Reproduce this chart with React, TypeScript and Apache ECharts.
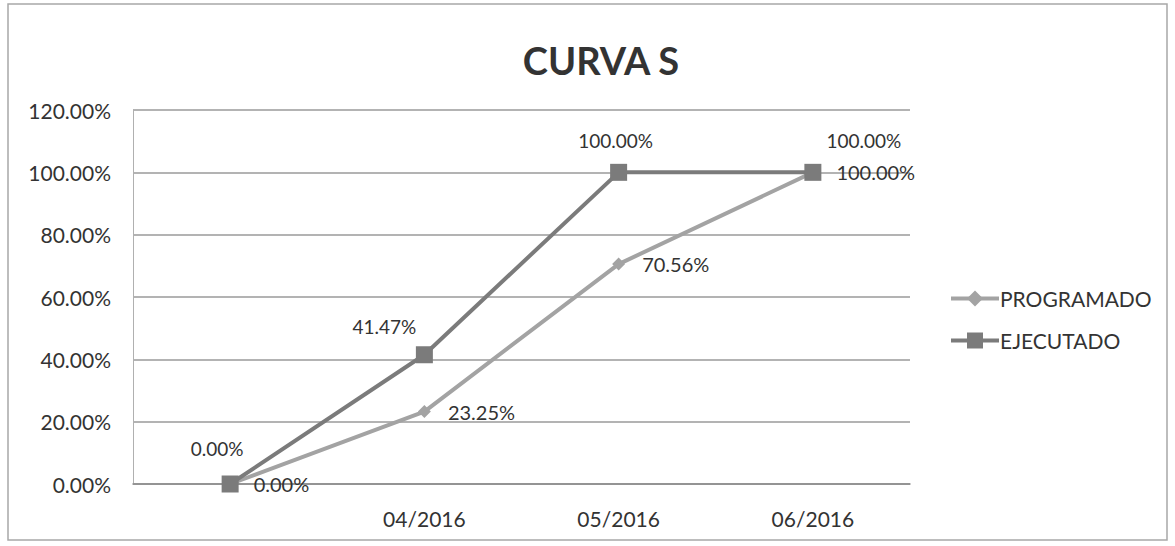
import React, { useEffect, useRef } from "react";
import * as echarts from "echarts";

const categories = ["", "04/2016", "05/2016", "06/2016"];
const programado = [0, 23.25, 70.56, 100];
const ejecutado = [0, 41.47, 100, 100];
const yTicks = [0, 20, 40, 60, 80, 100, 120];

const FONT = "Lato, 'Open Sans', sans-serif";

export default function App() {
  const ref = useRef<HTMLDivElement>(null);
  useEffect(() => {
    const chart = echarts.init(ref.current!, null, { renderer: "svg" });
    const ejOffsets: [number, number][] = [[-13, -36], [-40, -28], [-3, -32], [51, -32]];
    chart.setOption({
      animation: false,
      backgroundColor: "#ffffff",
      title: {
        text: "CURVA S",
        left: 596,
        top: 36,
        textAlign: "center",
        textStyle: { fontFamily: FONT, fontSize: 38, fontWeight: "bold", color: "#333333" },
      },
      graphic: [
        {
          type: "rect",
          shape: { x: 8, y: 4, width: 1159, height: 536 },
          style: { fill: "none", stroke: "#a8a8a8", lineWidth: 1.5 },
          silent: true,
        },
      ],
      legend: {
        orient: "vertical",
        left: 944,
        top: 282,
        itemGap: 19,
        itemWidth: 48,
        itemHeight: 20,
        lineStyle: { width: 4 },
        textStyle: { fontFamily: FONT, fontSize: 21, lineHeight: 23, color: "#333333", padding: [0, 0, 0, -4] },
        data: ["PROGRAMADO", "EJECUTADO"],
      },
      grid: { left: 133, right: 1175 - 910, top: 110, bottom: 546 - 484 },
      xAxis: {
        type: "category",
        data: categories,
        boundaryGap: true,
        axisLine: { show: true, lineStyle: { color: "#8a8a8a", width: 1.5 } },
        axisTick: { show: false },
        axisLabel: { fontFamily: FONT, fontSize: 21, color: "#333333", margin: 24 },
      },
      yAxis: {
        type: "value",
        min: 0,
        max: 120,
        interval: 20,
        axisLine: { show: true, lineStyle: { color: "#b0b0b0", width: 1 } },
        axisTick: { show: false },
        splitLine: { lineStyle: { color: "#9a9a9a", width: 1.5 } },
        axisLabel: {
          fontFamily: FONT,
          fontSize: 21,
          color: "#333333",
          margin: 22,
          formatter: (v: number) => (yTicks.includes(v) ? v.toFixed(2) + "%" : ""),
        },
      },
      series: [
        {
          name: "PROGRAMADO",
          type: "line",
          data: programado,
          symbol: "diamond",
          symbolSize: 13,
          z: 2,
          lineStyle: { color: "#a3a3a3", width: 4 },
          itemStyle: { color: "#a3a3a3" },
          label: {
            show: true,
            position: "right",
            distance: 17,
            fontFamily: FONT,
            fontSize: 20,
            color: "#333333",
            formatter: (p: any) => Number(p.value).toFixed(2) + "%",
          },
        },
        {
          name: "EJECUTADO",
          type: "line",
          data: ejecutado.map((v, i) => ({
            value: v,
            label: { offset: ejOffsets[i] },
          })),
          symbol: "rect",
          symbolSize: 17,
          z: 3,
          lineStyle: { color: "#7b7b7b", width: 4 },
          itemStyle: { color: "#7b7b7b" },
          label: {
            show: true,
            position: "inside",
            fontFamily: FONT,
            fontSize: 19,
            color: "#333333",
            formatter: (p: any) => Number(p.value).toFixed(2) + "%",
          },
        },
      ],
    });
    return () => chart.dispose();
  }, []);
  return (
    <div
      ref={ref}
      style={{ position: "absolute", left: 0, top: 0, width: 1175, height: 546 }}
    />
  );
}
